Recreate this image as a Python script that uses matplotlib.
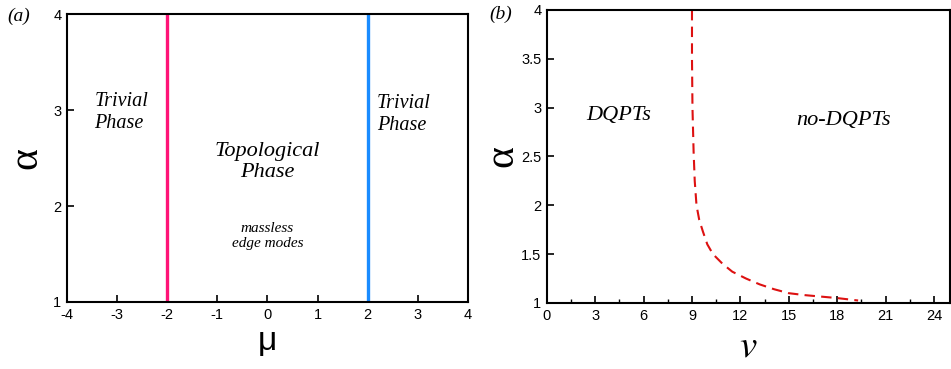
import numpy as np
import matplotlib.pyplot as plt
from matplotlib.ticker import MultipleLocator

# panel (a): phase boundaries in mu
mu_boundaries = [-2, 2]
boundary_colors = ['#ff1477', '#1a8cff']
alpha_range = [1, 4]

# panel (b): critical line v_c(alpha)
v_crit = [9.0, 9.0, 9.03, 9.1, 9.17, 9.28, 9.45, 9.68, 9.95, 10.3, 10.9, 11.5, 12.35, 13.2, 14.1, 15.0, 16.0, 17.0, 18.0, 19.3]
alpha_crit = [4.0, 3.5, 3.0, 2.55, 2.25, 2.0, 1.85, 1.73, 1.6, 1.5, 1.4, 1.32, 1.25, 1.19, 1.14, 1.10, 1.08, 1.065, 1.05, 1.025]

serif = ['Liberation Serif', 'DejaVu Serif']
sans = ['Liberation Sans', 'DejaVu Sans']
plt.rcParams['font.family'] = sans
plt.rcParams['axes.unicode_minus'] = False
plt.rcParams['mathtext.fontset'] = 'stix'

fig = plt.figure(figsize=(9.51, 3.69), dpi=100)
ax1 = fig.add_axes([0.0705, 0.1816, 0.4215, 0.7804])
ax2 = fig.add_axes([0.575, 0.179, 0.424, 0.794])

for ax in (ax1, ax2):
    for s in ax.spines.values():
        s.set_linewidth(1.5)
    ax.tick_params(direction='in', labelsize=10.5, width=1.2, length=5, pad=4,
                   top=False, right=False)
    ax.tick_params(which='minor', direction='in', width=1.0, length=3)

# (a)
for m, c in zip(mu_boundaries, boundary_colors):
    ax1.plot([m, m], alpha_range, color=c, lw=2.4)
ax1.set_xlim(-4, 4)
ax1.set_ylim(1, 4)
ax1.set_xticks(range(-4, 5))
ax1.set_yticks([1, 2, 3, 4])
ax1.set_xlabel('μ', fontsize=24, family=sans, labelpad=3)
ax1.set_ylabel('α', fontsize=30, family=serif, labelpad=6)
ax1.text(-3.45, 2.97, 'Trivial\nPhase', family=serif, style='italic', fontsize=14.5,
         ha='left', va='center', linespacing=1.2)
ax1.text(2.18, 2.95, 'Trivial\nPhase', family=serif, style='italic', fontsize=14.5,
         ha='left', va='center', linespacing=1.2)
ax1.text(0.0, 2.46, 'Topological\nPhase', family=serif, style='italic', fontsize=16,
         ha='center', va='center', linespacing=1.1)
ax1.text(0.0, 1.69, 'massless\nedge modes', family=serif, style='italic', fontsize=11,
         ha='center', va='center', linespacing=1.25)
fig.text(0.008, 0.955, '(a)', family=serif, style='italic', fontsize=14, va='center')

# (b)
ax2.plot(v_crit, alpha_crit, color='#dd1111', lw=1.5, ls=(0, (5, 3)))
ax2.set_xlim(0, 25)
ax2.set_ylim(1, 4)
ax2.set_xticks(range(0, 25, 3))
ax2.xaxis.set_minor_locator(MultipleLocator(1.5))
ax2.set_yticks([1, 1.5, 2, 2.5, 3, 3.5, 4])
ax2.set_yticklabels(['1', '1.5', '2', '2.5', '3', '3.5', '4'])
ax2.set_xlabel('$\\mathit{v}$', fontsize=28, labelpad=4)
ax2.set_ylabel('α', fontsize=30, family=serif, labelpad=0)
ax2.text(2.45, 2.92, 'DQPTs', family=serif, style='italic', fontsize=16,
         ha='left', va='center')
ax2.text(18.4, 2.87, 'no-DQPTs', family=serif, style='italic', fontsize=16,
         ha='center', va='center')
fig.text(0.515, 0.96, '(b)', family=serif, style='italic', fontsize=14, va='center')

fig.savefig('out.png', dpi=100)
